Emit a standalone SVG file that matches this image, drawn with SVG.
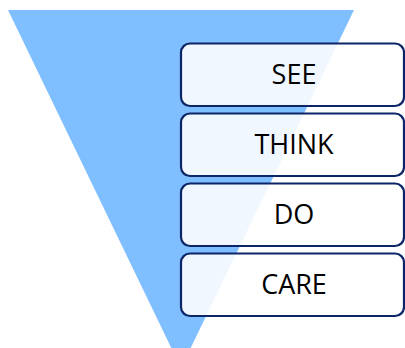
<svg xmlns="http://www.w3.org/2000/svg" width="405" height="348" viewBox="0 0 405 348">
<style>
.box{fill:#ffffff;fill-opacity:0.88;stroke:#0c2566;stroke-width:2.2}
.lbl{font-family:"Open Sans","Liberation Sans",sans-serif;font-size:27px;fill:#000;text-anchor:middle}
</style>
<rect width="405" height="348" fill="#ffffff"/>
<polygon id="funnel" points="8,10 354,10 181,368" fill="#80bfff"/>
<g id="connectors"/>
<g id="see"><rect class="box" x="181" y="43.5" width="223" height="62.5" rx="9"/><text class="lbl" x="294" y="84">SEE</text></g>
<g id="think"><rect class="box" x="181" y="113.5" width="223" height="62.5" rx="9"/><text class="lbl" x="294" y="154">THINK</text></g>
<g id="do"><rect class="box" x="181" y="183.5" width="223" height="62.5" rx="9"/><text class="lbl" x="294" y="224">DO</text></g>
<g id="care"><rect class="box" x="181" y="253.5" width="223" height="62.5" rx="9"/><text class="lbl" x="294" y="294">CARE</text></g>
</svg>
